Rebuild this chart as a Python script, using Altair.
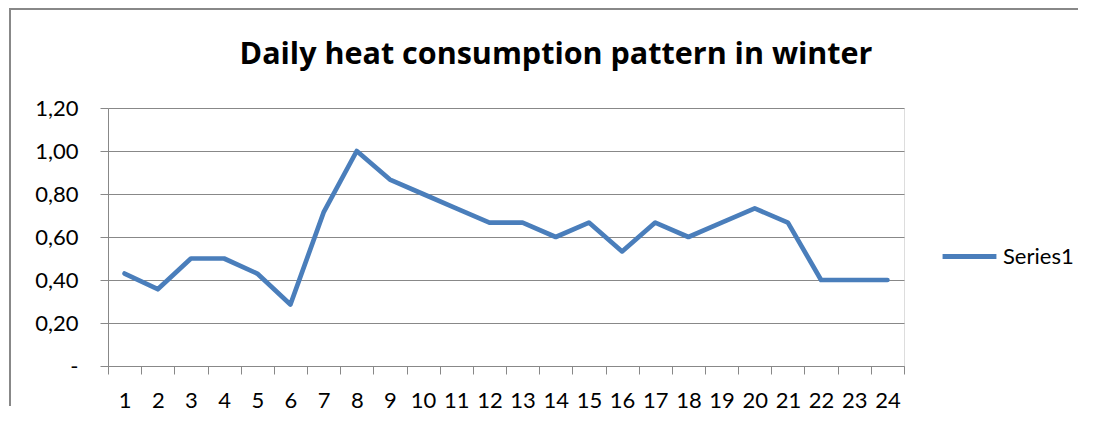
import altair as alt
import pandas as pd

hours = [str(h) for h in range(1, 25)]
values = [0.43, 0.357, 0.50, 0.50, 0.43, 0.286, 0.714, 1.00, 0.867, 0.80, 0.733, 0.667,
          0.667, 0.60, 0.667, 0.533, 0.667, 0.60, 0.667, 0.733, 0.667, 0.40, 0.40, 0.40]
series = ["Series1"] * 24
y_ticks = [0, 0.2, 0.4, 0.6, 0.8, 1.0, 1.2]

df = pd.DataFrame({"hour": hours, "value": values, "series": series})

FONT = "Lato"
GRID = "#888888"
W, H = 796, 258

line = alt.Chart(df).mark_line(strokeWidth=4.7, strokeCap="round", strokeJoin="round").encode(
    x=alt.X("hour:O", sort=hours,
            scale=alt.Scale(paddingInner=0, paddingOuter=0),
            axis=alt.Axis(title=None, labelAngle=0, tickBand="extent", tickSize=8,
                          labelPadding=16, labelFontSize=22, labelFont=FONT,
                          labelColor="#000000", domainColor=GRID, tickColor=GRID,
                          grid=False)),
    y=alt.Y("value:Q", scale=alt.Scale(domain=[0, 1.2], nice=False),
            axis=alt.Axis(title=None, values=y_ticks, tickSize=8, labelPadding=22,
                          labelFontSize=22, labelFont=FONT, labelColor="#000000",
                          labelExpr="datum.value == 0 ? '-' : replace(format(datum.value, '.2f'), '.', ',')",
                          domainColor=GRID, tickColor=GRID, gridColor=GRID,
                          gridWidth=1.2)),
    color=alt.Color("series:N", scale=alt.Scale(range=["#4a7ebb"]),
                    legend=alt.Legend(title=None, orient="none", legendX=832, legendY=119,
                                      symbolType="stroke", symbolSize=2900,
                                      symbolStrokeWidth=5, labelFontSize=22,
                                      labelFont=FONT, labelColor="#000000",
                                      labelOffset=4)),
)

frame_left = alt.Chart(df).mark_rule(color="#888888", strokeWidth=2).encode(
    x=alt.value(-98), y=alt.value(-100), y2=alt.value(298))
frame_top = alt.Chart(df).mark_rule(color="#888888", strokeWidth=2).encode(
    x=alt.value(-99), x2=alt.value(970), y=alt.value(-99))

chart = alt.layer(frame_left, frame_top, line).properties(
    width=W, height=H,
    title=alt.TitleParams("Daily heat consumption pattern in winter", font="Open Sans",
                          fontSize=30.5, fontWeight="bold", color="#000000",
                          anchor="middle", dx=50, offset=-63),
    autosize=alt.AutoSizeParams(type="none"),
    padding={"left": 100, "top": 100, "right": 183, "bottom": 50},
).configure_view(stroke=None).configure(background="white")

chart.save("out.html", embed_options={"renderer": "svg", "actions": False})
